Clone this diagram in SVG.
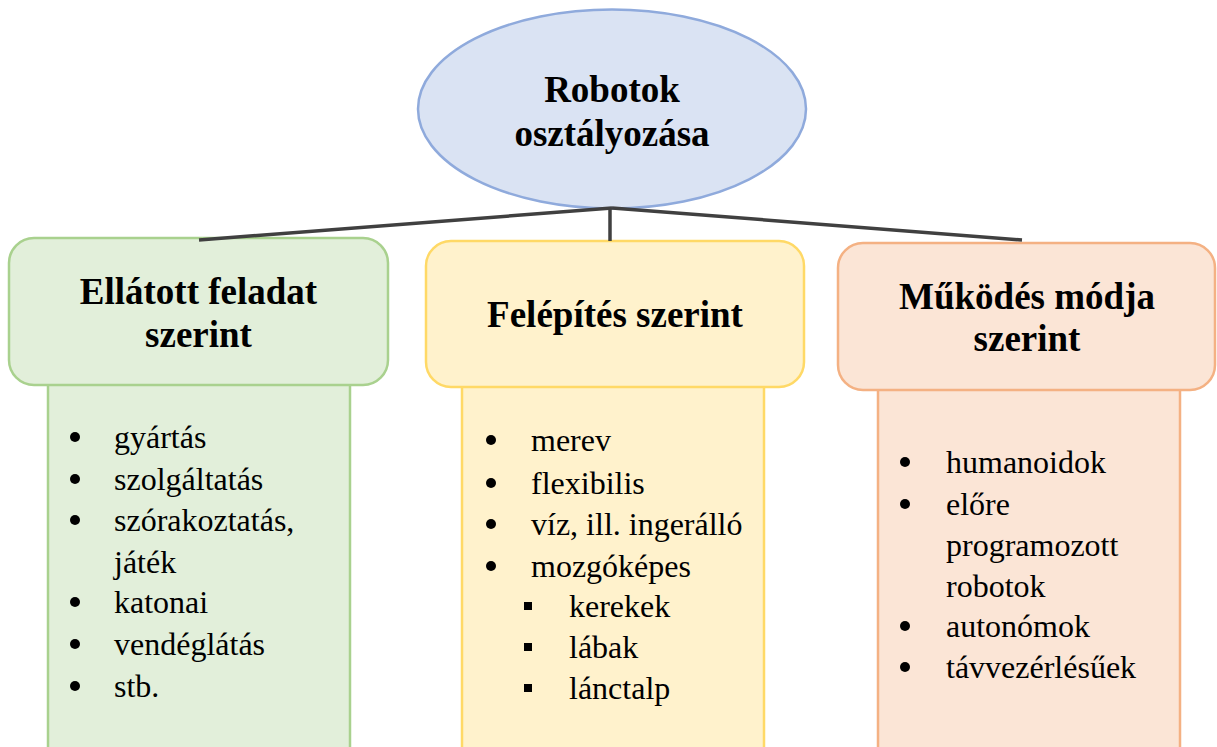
<svg xmlns="http://www.w3.org/2000/svg" width="1217" height="747" viewBox="0 0 1217 747">
<style>
.h{font-family:"Liberation Serif","DejaVu Serif",serif;font-weight:bold;font-size:37px;fill:#000;text-anchor:middle}
.t{font-family:"Liberation Serif","DejaVu Serif",serif;font-size:32px;fill:#000}
.g{fill:#e2efda;stroke:#a9d18e;stroke-width:2.5}
.y{fill:#fff2cc;stroke:#ffd966;stroke-width:2.5}
.o{fill:#fbe5d6;stroke:#f4b183;stroke-width:2.5}
.c{stroke:#404040;stroke-width:3.5;fill:none}
</style>
<rect width="1217" height="747" fill="#fff"/>
<g id="root">
<ellipse cx="612" cy="109" rx="194" ry="99.5" fill="#dae3f3" stroke="#8faadc" stroke-width="2.5"/>
<text class="h" x="612" y="102" font-family="Liberation Serif, serif">Robotok</text>
<text class="h" x="612" y="146" font-family="Liberation Serif, serif">osztályozása</text>
</g>
<g id="node-feladat">
<rect class="g" x="48" y="370" width="302" height="390"/>
<rect class="g" x="9" y="238" width="379" height="147" rx="25"/>
<text class="h" x="198.5" y="304">Ellátott feladat</text>
<text class="h" x="198.5" y="347">szerint</text>
<circle cx="75" cy="437" r="5"/>
<text class="t" x="114" y="448">gyártás</text>
<circle cx="75" cy="479" r="5"/>
<text class="t" x="114" y="490">szolgáltatás</text>
<circle cx="75" cy="520" r="5"/>
<text class="t" x="114" y="531">szórakoztatás,</text>
<text class="t" x="114" y="573">játék</text>
<circle cx="75" cy="602" r="5"/>
<text class="t" x="114" y="613">katonai</text>
<circle cx="75" cy="644" r="5"/>
<text class="t" x="114" y="655">vendéglátás</text>
<circle cx="75" cy="686" r="5"/>
<text class="t" x="114" y="697">stb.</text>
</g>
<g id="node-felepites">
<rect class="y" x="462" y="370" width="302" height="390"/>
<rect class="y" x="426" y="241" width="378" height="146" rx="25"/>
<text class="h" x="615" y="327">Felépítés szerint</text>
<circle cx="491" cy="440" r="5"/>
<text class="t" x="531" y="451">merev</text>
<circle cx="491" cy="483" r="5"/>
<text class="t" x="531" y="494">flexibilis</text>
<circle cx="491" cy="524" r="5"/>
<text class="t" x="531" y="535">víz, ill. ingerálló</text>
<circle cx="491" cy="566" r="5"/>
<text class="t" x="531" y="577">mozgóképes</text>
<rect x="524" y="602" width="8" height="8"/>
<text class="t" x="569" y="617">kerekek</text>
<rect x="524" y="643" width="8" height="8"/>
<text class="t" x="569" y="658">lábak</text>
<rect x="524" y="684" width="8" height="8"/>
<text class="t" x="569" y="699">lánctalp</text>
</g>
<g id="node-mukodes">
<rect class="o" x="878" y="375" width="302" height="390"/>
<rect class="o" x="838" y="243" width="377" height="147" rx="25"/>
<text class="h" x="1027" y="309">Működés módja</text>
<text class="h" x="1027" y="351">szerint</text>
<circle cx="905" cy="462" r="5"/>
<text class="t" x="946" y="473">humanoidok</text>
<circle cx="905" cy="504" r="5"/>
<text class="t" x="946" y="515">előre</text>
<text class="t" x="946" y="556">programozott</text>
<text class="t" x="946" y="597">robotok</text>
<circle cx="905" cy="626" r="5"/>
<text class="t" x="946" y="637">autonómok</text>
<circle cx="905" cy="667" r="5"/>
<text class="t" x="946" y="678">távvezérlésűek</text>
</g>
<g id="connectors">
<line class="c" x1="612" y1="208" x2="199" y2="240"/>
<line class="c" x1="612" y1="208" x2="1022" y2="240"/>
<line class="c" x1="610" y1="208" x2="610" y2="241"/>
</g>
</svg>
